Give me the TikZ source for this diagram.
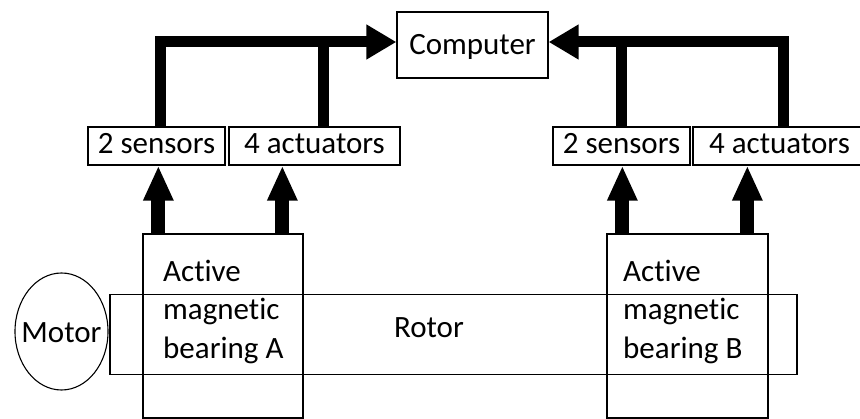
\documentclass[tikz,border=0pt]{standalone}
\usepackage{fontspec}
\setmainfont{Carlito}[Ligatures=NoCommon]
\usetikzlibrary{arrows.meta,shapes.geometric}
\begin{document}
\begin{tikzpicture}[x=1pt,y=-1pt,
  box/.style={draw,line width=1.3pt,inner sep=0pt,font=\fontsize{31}{38}\selectfont},
  lbl/.style={inner sep=0pt,font=\fontsize{31}{38}\selectfont},
  small/.style={text height=20pt,text depth=5pt},
  fb/.style={line width=11pt,line join=miter,-{Triangle[width=33pt,length=30pt]}},
  fbline/.style={line width=11pt},
  up/.style={line width=14pt,-{Triangle[width=28pt,length=35pt]}}]
\useasboundingbox[fill=white] (0,0) rectangle (860,419);
% computer
\node[box,minimum width=151pt,minimum height=66pt,text height=21pt,text depth=2pt] (comp) at (472.5,45) {Computer};
% sensor / actuator boxes
\node[box,small,minimum width=137pt,minimum height=38pt] (sA) at (156.5,146) {2 sensors};
\node[box,small,minimum width=171pt,minimum height=38pt] (aA) at (314.5,146) {4 actuators};
\node[box,small,minimum width=137pt,minimum height=38pt] (sB) at (621.5,146) {2 sensors};
\node[box,small,minimum width=173pt,minimum height=38pt] (aB) at (779.5,146) {4 actuators};
% rotor and bearings
\node[box,minimum width=687pt,minimum height=80pt] (rotor) at (453.5,334.5) {};
\node[box,minimum width=160pt,minimum height=184pt] (bA) at (223,326) {};
\node[box,minimum width=161pt,minimum height=184pt] (bB) at (687.5,326) {};
\node[box,ellipse,line width=1.1pt,minimum width=93pt,minimum height=117pt] (motor) at (61.5,331.5) {};
% labels
\node[lbl,anchor=base] (motorlbl) at (61.5,343) {Motor};
\node[lbl,anchor=base west] (bAl1) at (163,282) {Active};
\node[lbl,anchor=base west] (bAl2) at (163,320) {magnetic};
\node[lbl,anchor=base west] (bAl3) at (163,359) {bearing A};
\node[lbl,anchor=base west] (bBl1) at (623,282) {Active};
\node[lbl,anchor=base west] (bBl2) at (623,320) {magnetic};
\node[lbl,anchor=base west] (bBl3) at (623,359) {bearing B};
\node[lbl,anchor=base] (rotorlbl) at (429,338) {Rotor};
% feedback connectors
\coordinate (cw) at ([yshift=3pt]comp.west);
\coordinate (ce) at ([yshift=3pt]comp.east);
\coordinate (sAt) at ([xshift=3.5pt]sA.north);
\coordinate (aAt) at ([xshift=8.5pt]aA.north);
\coordinate (sBt) at (sB.north);
\coordinate (aBt) at ([xshift=3.5pt]aB.north);
\draw[fb] (sAt) |- (cw);
\draw[fbline] (aAt) -- (aAt |- cw);
\draw[fb] (aBt) |- (ce);
\draw[fbline] (sBt) -- (sBt |- ce);
% upward arrows
\coordinate (bAa) at ([xshift=16pt]bA.north west);
\coordinate (bAb) at ([xshift=140pt]bA.north west);
\coordinate (bBa) at ([xshift=16pt]bB.north west);
\coordinate (bBb) at ([xshift=141pt]bB.north west);
\draw[up] (bAa) -- (bAa |- sA.south);
\draw[up] (bAb) -- (bAb |- aA.south);
\draw[up] (bBa) -- (bBa |- sB.south);
\draw[up] (bBb) -- (bBb |- aB.south);
\end{tikzpicture}
\end{document}
